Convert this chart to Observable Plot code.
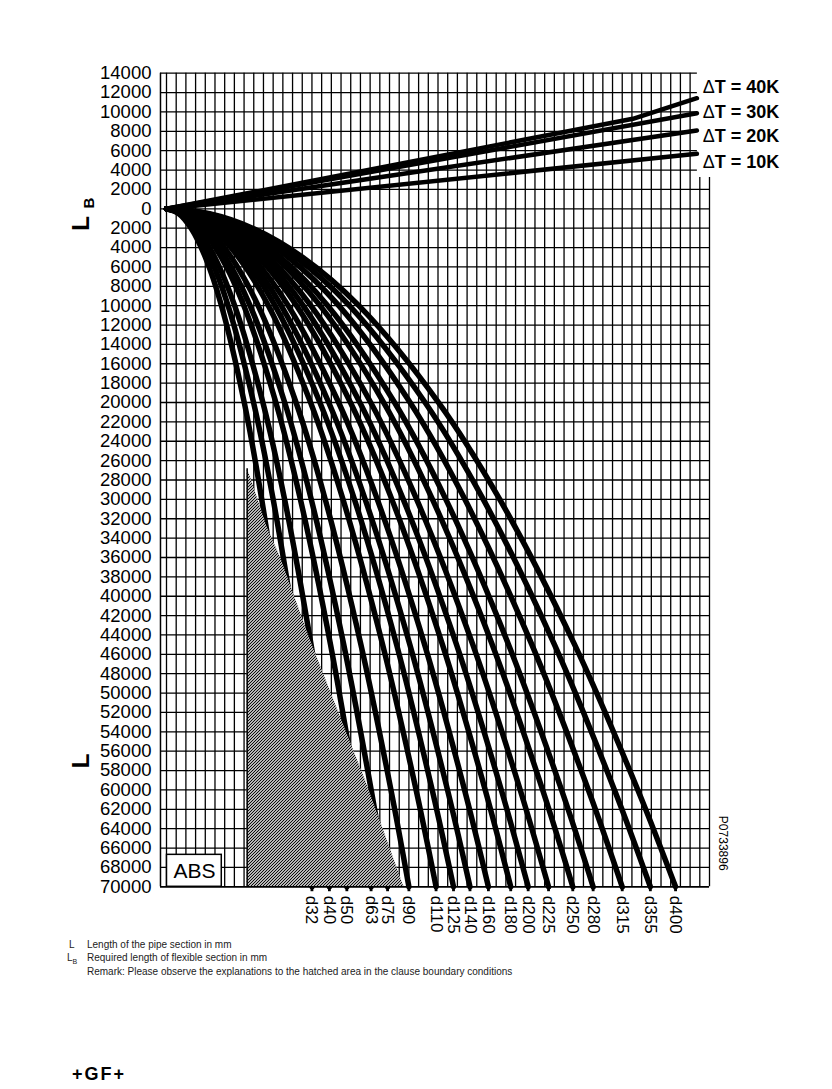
<!DOCTYPE html>
<html><head><meta charset="utf-8">
<script src="https://cdn.jsdelivr.net/npm/d3@7"></script>
<script src="https://cdn.jsdelivr.net/npm/@observablehq/plot@0.6"></script>
<style>
html,body{margin:0;padding:0;background:#fff;}
body{position:relative;width:832px;height:1089px;font-family:"Liberation Sans",Arial,sans-serif;}
#chart{position:absolute;left:0;top:0;}
.note{position:absolute;font-size:10px;color:#222;white-space:nowrap;line-height:12px;}
#logo{position:absolute;left:72px;top:1064px;font-size:18px;font-weight:bold;letter-spacing:2px;}
</style></head><body>
<div id="chart"></div>
<div class="note" style="left:69px;top:939px">L</div>
<div class="note" style="left:87px;top:939px">Length of the pipe section in mm</div>
<div class="note" style="left:67px;top:952px">L<sub style="font-size:7px">B</sub></div>
<div class="note" style="left:87px;top:952px">Required length of flexible section in mm</div>
<div class="note" style="left:87px;top:966px">Remark: Please observe the explanations to the hatched area in the clause boundary conditions</div>
<div id="logo">+GF+</div>
<script>
// ---- data ----
const lbTicks = [14000, 12000, 10000, 8000, 6000, 4000, 2000];
const lTicks = [0, 2000, 4000, 6000, 8000, 10000, 12000, 14000, 16000, 18000, 20000, 22000, 24000, 26000, 28000, 30000, 32000, 34000, 36000, 38000, 40000, 42000, 44000, 46000, 48000, 50000, 52000, 54000, 56000, 58000, 60000, 62000, 64000, 66000, 68000, 70000];
const diameters = ["d32","d40","d50","d63","d75","d90","d110","d125","d140","d160","d180","d200","d225","d250","d280","d315","d355","d400"];
// L levels (mm) at which each curve is read
const lLevels = [0, 500, 2000, 5000, 10000, 20000, 30000, 45000, 60000, 70000];
// horizontal position of each curve (grid columns) at those levels
const curveX = [
  [0, 1.27, 2.54, 4.01, 5.67, 8.02, 9.82, 12.03, 13.89, 15.0],
  [0, 1.42, 2.84, 4.49, 6.35, 8.98, 11.0, 13.47, 15.55, 16.8],
  [0, 1.57, 3.14, 4.97, 7.03, 9.94, 12.18, 14.91, 17.22, 18.6],
  [0, 1.78, 3.57, 5.64, 7.98, 11.28, 13.81, 16.92, 19.53, 21.1],
  [0, 1.93, 3.85, 6.09, 8.62, 12.19, 14.93, 18.28, 21.11, 22.8],
  [0, 2.11, 4.23, 6.68, 9.45, 13.36, 16.37, 20.05, 23.15, 25.0],
  [0, 2.35, 4.70, 7.43, 10.51, 14.86, 18.20, 22.29, 25.74, 27.8],
  [0, 2.50, 5.00, 7.91, 11.19, 15.82, 19.38, 23.73, 27.40, 29.6],
  [0, 2.64, 5.29, 8.37, 11.83, 16.73, 20.49, 25.10, 28.98, 31.3],
  [0, 2.81, 5.61, 8.87, 12.55, 17.75, 21.74, 26.62, 30.74, 33.2],
  [0, 3.00, 6.00, 9.49, 13.42, 18.97, 23.24, 28.46, 32.87, 35.5],
  [0, 3.15, 6.30, 9.97, 14.10, 19.94, 24.42, 29.91, 34.53, 37.3],
  [0, 3.33, 6.66, 10.53, 14.89, 21.06, 25.80, 31.59, 36.48, 39.4],
  [0, 3.54, 7.08, 11.20, 15.84, 22.40, 27.43, 33.60, 38.79, 41.9],
  [0, 3.72, 7.44, 11.76, 16.63, 23.52, 28.81, 35.28, 40.74, 44.0],
  [0, 3.97, 7.94, 12.56, 17.77, 25.12, 30.77, 37.68, 43.51, 47.0],
  [0, 4.22, 8.43, 13.34, 18.86, 26.67, 32.67, 40.01, 46.20, 49.9],
  [0, 4.44, 8.87, 14.03, 19.84, 28.06, 34.37, 42.09, 48.61, 52.5]
];
// Delta T lines (x columns, LB)
const dtLabels = ["ΔT = 40K", "ΔT = 30K", "ΔT = 20K", "ΔT = 10K"];
const dtLabelY = [12550, 9970, 7460, 4810];
const dtX = [[0, 48.1, 54.7], [0, 54.7], [0, 54.7], [0, 54.7]];
const dtLB = [[0, 9290, 11420], [0, 9870], [0, 8085], [0, 5680]];
// hatched area: right edge (x columns, L)
const hatchL = [26850, 27710, 32875, 35970, 44575, 59030, 64190, 69870, 70000];
const hatchRightX = [8.32, 8.66, 10.38, 11.75, 14.85, 20.52, 22.40, 24.43, 24.6];
const hatchLeftX = 8.32;

// ---- tables for the library ----
const curves = [];
diameters.forEach((d, i) => lLevels.forEach((L, j) => curves.push({d, x: curveX[i][j], y: -L})));
const dtLines = [];
dtLabels.forEach((t, i) => dtX[i].forEach((x, j) => dtLines.push({t, x, y: dtLB[i][j]})));
const hatch = hatchL.map((L, i) => ({y: -L, x1: hatchLeftX, x2: hatchRightX[i]}));
const yTicks = lbTicks.concat(lTicks.map(v => -v));
const cols = d3.range(0, 57);
const dLabels = diameters.map((d, i) => ({d, x: curveX[i][curveX[i].length - 1]}));
const dtText = dtLabels.map((t, i) => ({t, y: dtLabelY[i]}));

const X0 = -0.62;
const plot = Plot.plot({
  width: 832, height: 940,
  x: {domain: [0, 56], range: [166, 709], axis: null},
  y: {domain: [-70000, 14000], range: [886.3, 72.7], axis: null},
  style: {fontFamily: "'Liberation Sans', Arial, sans-serif", background: "white"},
  marks: [
    Plot.ruleY(yTicks, {y: d => d, x1: X0, x2: d => d >= 4000 ? 54.75 : 56, stroke: "black", strokeWidth: 1.3}),
    Plot.ruleX(cols, {x: d => d, y1: -70000, y2: d => d >= 55 ? 3230 : 14000, stroke: "black", strokeWidth: 1.3}),
    Plot.ruleX([X0], {y1: -70000, y2: 14000, stroke: "black", strokeWidth: 1.5}),
    Plot.line(curves, {x: "x", y: "y", z: "d", curve: "catmull-rom", stroke: "black", strokeWidth: 5.5}),
    Plot.line(dtLines, {x: "x", y: "y", z: "t", stroke: "black", strokeWidth: 4.5}),
    Plot.areaX(hatch, {y: "y", x1: "x1", x2: "x2", fill: "url(#hatch)"}),
    Plot.ruleX([hatchLeftX], {y1: -70000, y2: -hatchL[0], stroke: "black", strokeWidth: 1.5}),
    Plot.ruleY([-70000], {x1: X0, x2: 56, stroke: "black", strokeWidth: 1.5}),
    Plot.text(yTicks, {x: X0, y: d => d, text: d => String(Math.abs(d)), dx: -9, textAnchor: "end", fontSize: 18.5, fill: "black"}),
    Plot.dot(dLabels, {x: "x", y: -70000, dy: 3, symbol: "square", r: 1.6, fill: "black"}),
    Plot.text(dLabels, {x: "x", y: -70000, text: "d", rotate: 90, textAnchor: "start", dy: 9, fontSize: 17, fill: "black"}),
    Plot.text(dtText, {x: 55.3, y: "y", text: "t", textAnchor: "start", fontSize: 18, fontWeight: "bold", fill: "black"}),
    Plot.text(["P0733896"], {x: 57.4, y: -65500, text: d => d, rotate: 90, fontSize: 12, fill: "black"}),
    Plot.text(["L"], {x: -8.8, y: -57000, text: d => d, rotate: -90, fontSize: 24, fontWeight: "bold", fill: "black"}),
    Plot.text(["L"], {x: -8.8, y: -1500, text: d => d, rotate: -90, fontSize: 24, fontWeight: "bold", fill: "black"}),
    Plot.text(["B"], {x: -8.0, y: 600, text: d => d, rotate: -90, fontSize: 15, fontWeight: "bold", fill: "black"}),
    Plot.rect([0], {x1: 0.05, x2: 5.7, y1: -70000, y2: -66700, fill: "white", stroke: "black", strokeWidth: 1.5}),
    Plot.text(["ABS"], {x: 2.9, y: -68350, text: d => d, fontSize: 21, fill: "black"})
  ]
});
const ns = "http://www.w3.org/2000/svg";
const defs = document.createElementNS(ns, "defs");
defs.innerHTML = '<pattern id="hatch" patternUnits="userSpaceOnUse" width="3" height="3"><rect width="3" height="3" fill="#fff"/><path d="M-1,1 l2,-2 M0,3 l3,-3 M2,4 l2,-2" stroke="#000" stroke-width="1.1"/></pattern>';
plot.insertBefore(defs, plot.firstChild);
// thin (non-bold) delta sign as in the original
plot.querySelectorAll("text").forEach(t => {
  if (t.textContent.startsWith("Δ")) {
    const rest = t.textContent.slice(1);
    t.textContent = "";
    const a = document.createElementNS(ns, "tspan"); a.setAttribute("font-weight", "normal"); a.textContent = "Δ";
    const b = document.createElementNS(ns, "tspan"); b.textContent = rest;
    t.appendChild(a); t.appendChild(b);
  }
});
document.getElementById("chart").appendChild(plot);
</script>
</body></html>
